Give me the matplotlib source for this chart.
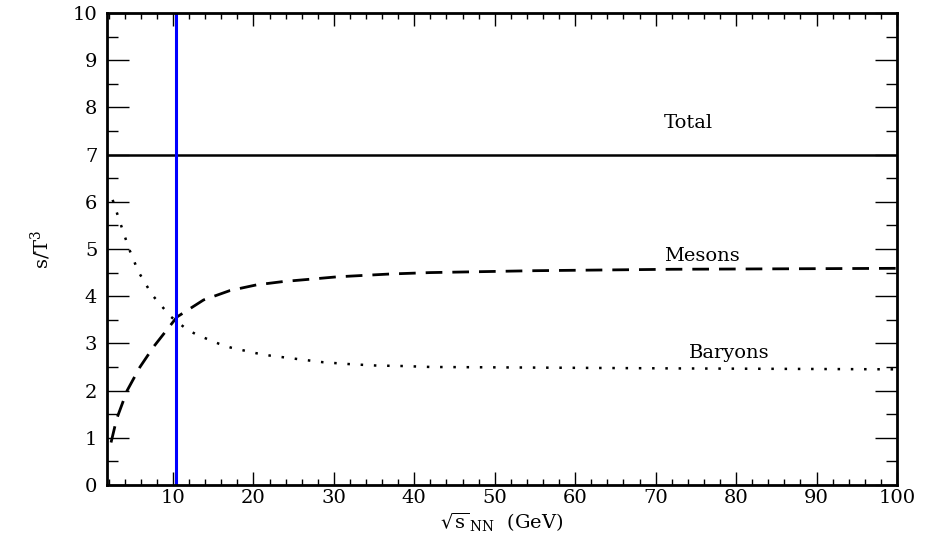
import matplotlib.pyplot as plt
from matplotlib.ticker import MultipleLocator

plt.rcParams['font.family'] = ['DejaVu Serif']
plt.rcParams['mathtext.fontset'] = 'dejavuserif'

# values
total_y = 7.0
sps_energy = 10.4

mesons_x = [2.3, 3.0, 4.3, 5.9, 7.6, 10.5, 13.8, 17.1, 20.4, 23.7, 27.1, 30.4, 37, 42, 55, 72, 100]
mesons_y = [0.9, 1.4, 2.0, 2.5, 2.93, 3.56, 3.92, 4.12, 4.24, 4.31, 4.36, 4.41, 4.47, 4.5, 4.54, 4.57, 4.59]

baryons_x = [2.5, 3.45, 4.5, 5.7, 7.4, 9.7, 11.7, 13, 14.3, 15.75, 17.2, 18.8, 20.4, 22.1,
             25.4, 28.7, 32, 35.3, 38.6, 42, 72, 100]
baryons_y = [6.04, 5.55, 5.02, 4.52, 4.03, 3.57, 3.3, 3.18, 3.09, 2.99, 2.91, 2.85, 2.79, 2.74,
             2.67, 2.6, 2.56, 2.53, 2.52, 2.5, 2.47, 2.45]

labels = ['Total', 'Mesons', 'Baryons']
label_x = [74.1, 75.7, 79.1]
label_y = [7.56, 4.75, 2.70]

fig = plt.figure(figsize=(9.42, 5.34), dpi=100)
ax = fig.add_axes([0.1136, 0.0918, 0.8386, 0.8839])

ax.axhline(total_y, color='black', lw=1.8)
ax.plot(mesons_x, mesons_y, color='black', lw=2, dashes=(6, 3.6))
ax.plot(baryons_x, baryons_y, color='black', lw=1.8, dashes=(1, 4.3))
ax.axvline(sps_energy, color='#0000ff', lw=2.2)

for t, x, y in zip(labels, label_x, label_y):
    ax.text(x, y, t, ha='center', va='baseline', fontsize=14)

ax.set_xlim(1.8, 100)
ax.set_ylim(0, 10)
ax.xaxis.set_major_locator(MultipleLocator(10))
ax.xaxis.set_minor_locator(MultipleLocator(2))
ax.yaxis.set_major_locator(MultipleLocator(1))
ax.yaxis.set_minor_locator(MultipleLocator(0.5))

ax.tick_params(axis='both', which='both', direction='in', top=True, right=True,
               width=1, labelsize=14)
ax.tick_params(axis='x', which='major', length=9.4, pad=3)
ax.tick_params(axis='x', which='minor', length=4.5)
ax.tick_params(axis='y', which='major', length=16, pad=7)
ax.tick_params(axis='y', which='minor', length=8)
for s in ax.spines.values():
    s.set_linewidth(2)

ax.set_xlabel(r'$\sqrt{\mathrm{s}}_{\,\mathrm{NN}}$  (GeV)', fontsize=14, labelpad=3)
ax.set_ylabel(r'$\mathrm{s/T^3}$', fontsize=14, labelpad=14)

fig.savefig('out.png', dpi=100)
